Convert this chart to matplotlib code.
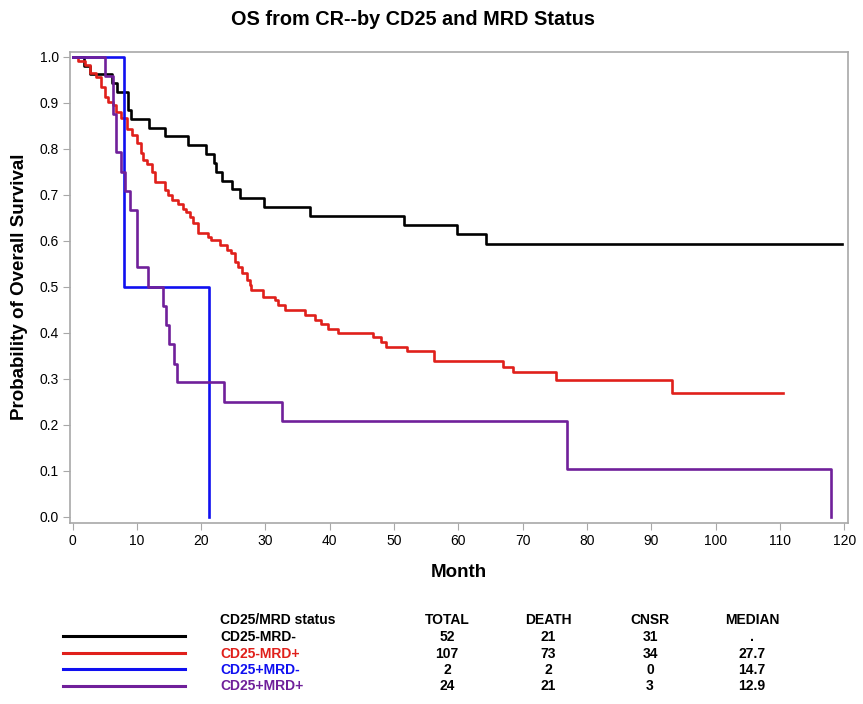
import matplotlib
matplotlib.use("Agg")
import matplotlib.pyplot as plt
from matplotlib.lines import Line2D

plt.rcParams["font.family"] = ["Liberation Sans", "DejaVu Sans"]

# -------------------------------
# Data
# -------------------------------
black_t = [0, 1.8, 2.7, 6.1, 6.9, 8.6, 9.1, 11.9, 14.3, 17.9, 20.7, 22.0, 22.3, 23.2,
           24.8, 26.0, 29.8, 36.9, 51.6, 59.8, 64.3, 119.6]
black_s = [1.0, 0.981, 0.962, 0.942, 0.923, 0.885, 0.865, 0.846, 0.827, 0.808, 0.788,
           0.769, 0.75, 0.731, 0.712, 0.692, 0.673, 0.654, 0.635, 0.615, 0.593, 0.593]

red_t = [0, 0.8, 1.9, 2.7, 3.7, 4.5, 5.0, 5.5, 6.3, 6.8, 7.6, 8.4, 9.2, 10.0, 10.7,
         11.0, 11.5, 12.3, 12.8, 14.4, 14.9, 15.4, 16.4, 17.2, 17.7, 18.2, 18.8, 19.5,
         21.1, 21.6, 22.9, 24.0, 24.7, 25.2, 25.8, 26.3, 27.1, 27.6, 27.8, 29.6, 31.5,
         32.0, 33.0, 36.1, 37.7, 38.7, 39.8, 41.3, 46.7, 47.9, 48.7, 52.0, 56.2, 67.0,
         68.5, 75.2, 93.2, 110.5]
red_s = [1.0, 0.991, 0.982, 0.964, 0.957, 0.935, 0.913, 0.902, 0.895, 0.88, 0.866,
         0.844, 0.83, 0.812, 0.79, 0.775, 0.768, 0.75, 0.728, 0.71, 0.699, 0.688, 0.681,
         0.67, 0.663, 0.652, 0.638, 0.616, 0.609, 0.601, 0.591, 0.58, 0.573, 0.554,
         0.543, 0.529, 0.515, 0.504, 0.493, 0.478, 0.471, 0.46, 0.449, 0.438, 0.428,
         0.418, 0.408, 0.399, 0.39, 0.38, 0.368, 0.36, 0.339, 0.326, 0.314, 0.297,
         0.268, 0.268]

blue_t = [0, 8.0, 21.2]
blue_s = [1.0, 0.5, 0.0]

purple_t = [0, 5.0, 6.3, 6.8, 7.6, 8.1, 8.9, 9.95, 11.8, 14.0, 14.6, 15.0, 15.8, 16.3,
            23.6, 32.5, 76.9, 118.0]
purple_s = [1.0, 0.958, 0.875, 0.792, 0.75, 0.708, 0.667, 0.542, 0.5, 0.458, 0.417,
            0.375, 0.333, 0.292, 0.25, 0.208, 0.104, 0.0]

groups = ["CD25-MRD-", "CD25-MRD+", "CD25+MRD-", "CD25+MRD+"]
colors = ["#000000", "#e0201b", "#1010f0", "#70209a"]
total = [52, 107, 2, 24]
death = [21, 73, 2, 21]
cnsr = [31, 34, 0, 3]
median = [".", "27.7", "14.7", "12.9"]

curves = [(black_t, black_s), (red_t, red_s), (blue_t, blue_s), (purple_t, purple_s)]

# -------------------------------
# Plot
# -------------------------------
fig = plt.figure(figsize=(8.63, 7.04), dpi=100)
ax = fig.add_axes([0.0811, 0.2575, 0.9015, 0.669])

for (t, s), c in zip(curves, colors):
    ax.step(t, s, where="post", color=c, linewidth=1.9)

ax.set_xlim(-0.4, 120.6)
ax.set_ylim(-0.013, 1.011)
ax.set_xticks(range(0, 121, 10))
ax.set_yticks([i / 10 for i in range(11)])
ax.set_yticklabels([f"{i / 10:.1f}" for i in range(11)])
for sp in ax.spines.values():
    sp.set_color("#a8a8a8")
    sp.set_linewidth(1.2)
ax.tick_params(direction="out", length=5, color="#a8a8a8", labelsize=10, pad=3)

ax.set_xlabel("Month", fontsize=13.5, fontweight="bold", labelpad=12)
ax.set_ylabel("Probability of Overall Survival", fontsize=13.5, fontweight="bold", labelpad=8)
fig.text(0.478, 0.972, "OS from CR--by CD25 and MRD Status", ha="center", va="center",
         fontsize=14.3, fontweight="bold")

# -------------------------------
# Table legend below the plot (pixel coords)
# -------------------------------
lax = fig.add_axes([0, 0, 1, 1])
lax.set_xlim(0, 863)
lax.set_ylim(704, 0)
lax.axis("off")

fs = 10
col_x = [447, 548, 650, 752]
lax.text(220, 620, "CD25/MRD status", ha="left", va="center", fontsize=fs, fontweight="bold")
for x, h in zip(col_x, ["TOTAL", "DEATH", "CNSR", "MEDIAN"]):
    lax.text(x, 620, h, ha="center", va="center", fontsize=fs, fontweight="bold")

row_y = [637, 653.5, 670, 686.5]
for i, g in enumerate(groups):
    y = row_y[i]
    lax.add_line(Line2D([63, 185], [y - 1, y - 1], color=colors[i], linewidth=2.2))
    lax.text(220, y, g, ha="left", va="center", fontsize=fs, fontweight="bold", color=colors[i])
    vals = [total[i], death[i], cnsr[i], median[i]]
    for x, v in zip(col_x, vals):
        lax.text(x, y, str(v), ha="center", va="center", fontsize=fs, fontweight="bold")

fig.savefig("out.png", dpi=100)
